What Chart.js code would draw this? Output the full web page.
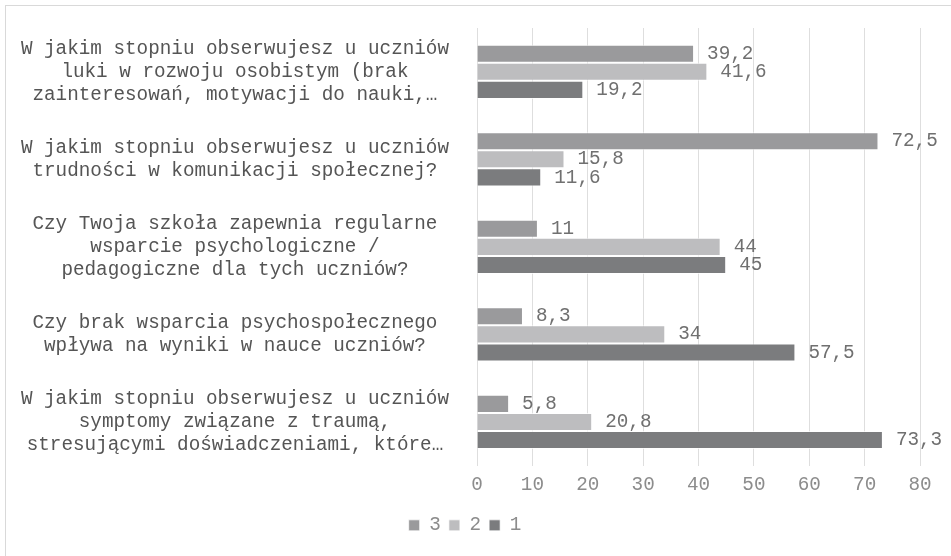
<!DOCTYPE html>
<html>
<head>
<meta charset="utf-8">
<script src="https://cdn.jsdelivr.net/npm/chart.js@4.4.0/dist/chart.umd.min.js"></script>
<style>
    body { margin: 0; background: #fff; }
    #wrap { position: relative; width: 951px; height: 556px; overflow: hidden; }
    #frame { position: absolute; left: 5px; top: 5px; width: 980px; height: 600px; border: 1px solid #d9d9d9; }
    canvas { position: absolute; left: 0; top: 0; }
</style>
</head>
<body>
<div id="wrap">
    <div id="frame"></div>
    <canvas id="myChart" width="951" height="556"></canvas>
</div>
<script>
const categories = [
    ['W jakim stopniu obserwujesz u uczniów', 'luki w rozwoju osobistym (brak', 'zainteresowań, motywacji do nauki,…'],
    ['W jakim stopniu obserwujesz u uczniów', 'trudności w komunikacji społecznej?'],
    ['Czy Twoja szkoła zapewnia regularne', 'wsparcie psychologiczne /', 'pedagogiczne dla tych uczniów?'],
    ['Czy brak wsparcia psychospołecznego', 'wpływa na wyniki w nauce uczniów?'],
    ['W jakim stopniu obserwujesz u uczniów', 'symptomy związane z traumą,', 'stresującymi doświadczeniami, które…']
];
const seriesNames = ['3', '2', '1'];
const values3 = [39.2, 72.5, 11, 8.3, 5.8];
const values2 = [41.6, 15.8, 44, 34, 20.8];
const values1 = [19.2, 11.6, 45, 57.5, 73.3];
const xTicks = [0, 10, 20, 30, 40, 50, 60, 70, 80];

const FONT = 'Liberation Mono, Courier New, monospace';

// value labels next to the bar ends, with a decimal comma
const valueLabels = {
    id: 'valueLabels',
    afterDatasetsDraw(chart) {
        const ctx = chart.ctx;
        ctx.save();
        ctx.font = '19.3px ' + FONT;
        ctx.fillStyle = '#707070';
        ctx.textAlign = 'left';
        ctx.textBaseline = 'middle';
        chart.data.datasets.forEach((ds, i) => {
            chart.getDatasetMeta(i).data.forEach((bar, j) => {
                ctx.fillText(String(ds.data[j]).replace('.', ','), bar.x + 13, bar.y);
            });
        });
        ctx.restore();
    }
};

window.onload = function() {
    var ctx = document.getElementById('myChart').getContext('2d');
    var myChart = new Chart(ctx, {
        type: 'bar',
        data: {
            labels: categories,
            datasets: [
                { label: seriesNames[0], data: values3, backgroundColor: '#9a9a9c' },
                { label: seriesNames[1], data: values2, backgroundColor: '#bdbdbf' },
                { label: seriesNames[2], data: values1, backgroundColor: '#7b7c7e' }
            ]
        },
        options: {
            indexAxis: 'y',
            responsive: false,
            animation: false,
            datasets: {
                bar: {
                    categoryPercentage: 0.62,
                    barPercentage: 1.0,
                    borderColor: 'rgba(255,255,255,0.7)',
                    borderWidth: 1
                }
            },
            layout: { padding: { left: 10, right: 31, top: 28, bottom: 11 } },
            plugins: {
                tooltip: { enabled: false },
                legend: {
                    position: 'bottom',
                    labels: {
                        color: '#8c8c8c',
                        font: { family: FONT, size: 19.3 },
                        boxWidth: 11,
                        boxHeight: 11,
                        padding: 8
                    }
                }
            },
            scales: {
                x: {
                    min: 0,
                    max: 80,
                    afterBuildTicks: s => { s.ticks = xTicks.map(v => ({ value: v })); },
                    afterFit: s => { s.height = 42; s.paddingLeft = 0; },
                    grid: { color: '#dedede', drawTicks: false },
                    border: { display: false },
                    ticks: {
                        color: '#8c8c8c',
                        padding: 8,
                        font: { family: FONT, size: 19.3 }
                    }
                },
                y: {
                    afterFit: s => { s.width = 467; s.paddingTop = 0; s.paddingBottom = 0; },
                    grid: { display: false },
                    border: { display: false },
                    ticks: {
                        color: '#555555',
                        padding: 20,
                        crossAlign: 'center',
                        autoSkip: false,
                        font: { family: FONT, size: 19.3 }
                    }
                }
            }
        },
        plugins: [valueLabels]
    });
};
</script>
</body>
</html>
